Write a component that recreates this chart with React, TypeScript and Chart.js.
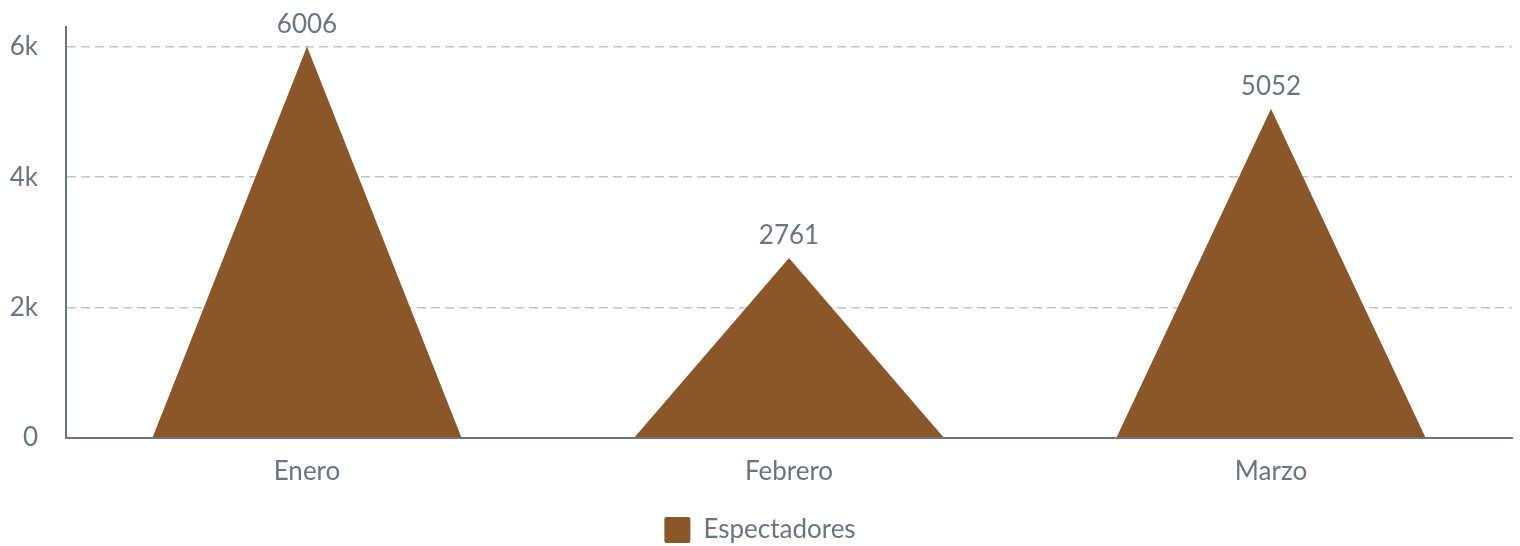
import React, { useEffect, useRef } from "react";
import { Chart, registerables } from "chart.js";

Chart.register(...registerables);

const categories = ["Enero", "Febrero", "Marzo"];
const seriesName = "Espectadores";
const values = [6006, 2761, 5052];
const tickValues = [0, 2000, 4000, 6000];

const BROWN = "#8b572a";
const TEXT = "#6b7480";
const FONT = "Lato, 'Noto Sans', sans-serif";
const FS = 26;

const trianglePlugin = {
  id: "triangles",
  beforeDatasetDraw(chart: any, args: any) {
    const ctx = chart.ctx;
    const meta = args.meta;
    ctx.save();
    meta.data.forEach((el: any, i: number) => {
      const { x, y, base, width } = el.getProps(["x", "y", "base", "width"], true);
      ctx.beginPath();
      ctx.moveTo(x - width / 2, base);
      ctx.lineTo(x, y);
      ctx.lineTo(x + width / 2, base);
      ctx.closePath();
      ctx.fillStyle = BROWN;
      ctx.fill();
      ctx.fillStyle = TEXT;
      ctx.font = `${FS}px ${FONT}`;
      ctx.textAlign = "center";
      ctx.textBaseline = "alphabetic";
      ctx.fillText(String(chart.data.datasets[args.index].data[i]), x, y - 14);
    });
    ctx.restore();
    return false;
  },
};

export default function App() {
  const ref = useRef<HTMLCanvasElement>(null);
  useEffect(() => {
    document.body.style.margin = "0";
    const chart = new Chart(ref.current!, {
      type: "bar",
      data: {
        labels: categories,
        datasets: [
          {
            label: seriesName,
            data: values,
            backgroundColor: BROWN,
            borderWidth: 0,
            barPercentage: 0.8,
            categoryPercentage: 0.8,
          },
        ],
      },
      options: {
        animation: false,
        responsive: false,
        maintainAspectRatio: false,
        layout: { padding: { left: 8, right: 8, top: 27, bottom: -7 } },
        plugins: {
          tooltip: { enabled: false },
          legend: {
            position: "bottom",
            labels: {
              color: TEXT,
              font: { family: FONT, size: FS },
              boxWidth: 26,
              boxHeight: 26,
              padding: 12,
              useBorderRadius: true,
              borderRadius: 2,
            },
          },
        },
        scales: {
          x: {
            grid: { display: false, drawTicks: false },
            border: { display: true, color: "#6b7280", width: 2 },
            ticks: { color: TEXT, font: { family: FONT, size: FS }, padding: 18 },
          },
          y: {
            min: 0,
            max: Math.max(...values) * 1.05,
            afterBuildTicks: (scale: any) => {
              scale.ticks = tickValues.map((v) => ({ value: v }));
            },
            afterFit: (scale: any) => {
              scale.width = 58;
              scale.paddingTop = 0;
              scale.paddingBottom = 0;
            },
            grid: {
              color: "#c2c4c8",
              lineWidth: 1.5,
              drawTicks: false,
            },
            border: { display: true, color: "#6b7280", width: 2, dash: [9, 5] },
            ticks: {
              color: TEXT,
              font: { family: FONT, size: FS },
              padding: 28,
              callback: (v: any) => (v === 0 ? "0" : v / 1000 + "k"),
            },
          },
        },
      },
      plugins: [trianglePlugin],
    });
    return () => chart.destroy();
  }, []);
  return <canvas ref={ref} width={1520} height={546} style={{ display: "block" }} />;
}
